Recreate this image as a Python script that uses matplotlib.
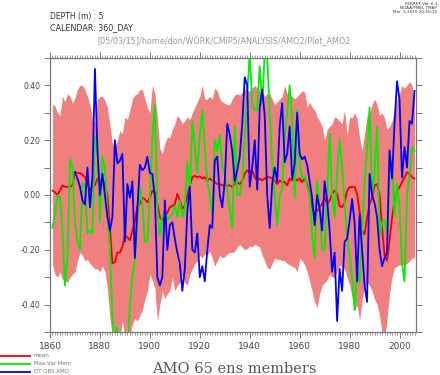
import numpy as np
import matplotlib
matplotlib.use("Agg")
import matplotlib.pyplot as plt
from matplotlib.lines import Line2D
from matplotlib.ticker import MultipleLocator, FixedLocator

# ensemble spread (max / min of the 65 members), ensemble mean and single member
years = np.arange(1861, 2007)
ens_hi = [0.33, 0.325, 0.30, 0.29, 0.36, 0.34, 0.37, 0.36, 0.335, 0.355,
          0.385, 0.40, 0.40, 0.385, 0.36, 0.33, 0.28, 0.26, 0.35, 0.36,
          0.36, 0.345, 0.32, 0.255, 0.19, 0.175, 0.20, 0.235, 0.225, 0.285,
          0.275, 0.31, 0.35, 0.365, 0.37, 0.385, 0.385, 0.35, 0.32, 0.30,
          0.40, 0.37, 0.285, 0.17, 0.15, 0.19, 0.21, 0.21, 0.24, 0.26,
          0.29, 0.28, 0.26, 0.27, 0.285, 0.275, 0.30, 0.32, 0.34, 0.36,
          0.40, 0.35, 0.35, 0.36, 0.35, 0.39, 0.38, 0.35, 0.34, 0.335,
          0.33, 0.33, 0.35, 0.365, 0.37, 0.365, 0.375, 0.385, 0.38, 0.38,
          0.39, 0.40, 0.39, 0.38, 0.37, 0.36, 0.37, 0.37, 0.35, 0.33,
          0.34, 0.35, 0.36, 0.40, 0.37, 0.37, 0.36, 0.35, 0.36, 0.37,
          0.38, 0.375, 0.32, 0.34, 0.32, 0.31, 0.285, 0.27, 0.25, 0.20,
          0.24, 0.25, 0.26, 0.285, 0.28, 0.27, 0.26, 0.31, 0.22, 0.285,
          0.28, 0.30, 0.28, 0.21, 0.16, 0.225, 0.29, 0.30, 0.33, 0.35,
          0.33, 0.29, 0.30, 0.28, 0.24, 0.25, 0.27, 0.31, 0.35, 0.37,
          0.40, 0.39, 0.40, 0.415, 0.40, 0.34]
ens_lo = [-0.255, -0.29, -0.30, -0.28, -0.31, -0.31, -0.32, -0.30, -0.29, -0.28,
          -0.24, -0.21, -0.22, -0.24, -0.235, -0.25, -0.26, -0.27, -0.27, -0.28,
          -0.26, -0.28, -0.34, -0.45, -0.52, -0.52, -0.47, -0.52, -0.46, -0.52,
          -0.48, -0.52, -0.47, -0.45, -0.46, -0.44, -0.42, -0.38, -0.35, -0.29,
          -0.31, -0.34, -0.46, -0.40, -0.35, -0.38, -0.36, -0.35, -0.30, -0.35,
          -0.33, -0.32, -0.29, -0.32, -0.33, -0.29, -0.27, -0.25, -0.24, -0.22,
          -0.23, -0.215, -0.22, -0.205, -0.23, -0.26, -0.24, -0.22, -0.23, -0.225,
          -0.215, -0.21, -0.21, -0.205, -0.19, -0.18, -0.19, -0.20, -0.195, -0.185,
          -0.19, -0.18, -0.185, -0.19, -0.22, -0.24, -0.265, -0.27, -0.25, -0.23,
          -0.235, -0.235, -0.24, -0.24, -0.25, -0.255, -0.26, -0.265, -0.28, -0.23,
          -0.24, -0.255, -0.28, -0.315, -0.35, -0.39, -0.41, -0.36, -0.33, -0.32,
          -0.31, -0.29, -0.30, -0.30, -0.28, -0.255, -0.26, -0.27, -0.30, -0.33,
          -0.37, -0.42, -0.40, -0.46, -0.38, -0.34, -0.32, -0.33, -0.35, -0.38,
          -0.40, -0.44, -0.50, -0.53, -0.45, -0.36, -0.30, -0.265, -0.26, -0.255,
          -0.255, -0.255, -0.25, -0.24, -0.23, -0.23]
ens_mean = [0.016, 0.01, 0.0, 0.016, 0.035, 0.03, 0.03, 0.03, 0.035, 0.085,
            0.08, 0.08, 0.075, 0.065, 0.04, 0.016, 0.035, 0.035, 0.06, 0.047,
            0.06, 0.035, 0.0, -0.12, -0.25, -0.245, -0.21, -0.21, -0.19, -0.145,
            -0.155, -0.165, -0.13, -0.095, -0.04, -0.033, -0.01, -0.015, -0.027, -0.01,
            0.016, 0.01, -0.033, -0.08, -0.095, -0.08, -0.064, -0.045, -0.04, -0.033,
            0.004, -0.02, -0.05, -0.04, -0.002, 0.035, 0.065, 0.07, 0.065, 0.068,
            0.06, 0.065, 0.053, 0.06, 0.053, 0.047, 0.04, 0.04, 0.035, 0.035,
            0.035, 0.035, 0.03, 0.04, 0.047, 0.04, 0.053, 0.077, 0.09, 0.083,
            0.09, 0.065, 0.053, 0.06, 0.053, 0.06, 0.065, 0.065, 0.06, 0.053,
            0.04, 0.053, 0.047, 0.047, 0.035, 0.06, 0.053, 0.06, 0.053, 0.06,
            0.047, 0.06, 0.04, 0.004, -0.045, -0.07, -0.058, -0.045, -0.033, -0.01,
            -0.033, -0.02, 0.004, 0.016, 0.004, -0.04, -0.045, -0.027, 0.016, 0.028,
            0.03, 0.03, 0.004, -0.058, -0.13, -0.143, -0.083, -0.033, -0.01, 0.035,
            0.04, 0.004, -0.12, -0.22, -0.24, -0.168, -0.083, -0.02, 0.016, 0.028,
            0.047, 0.065, 0.083, 0.077, 0.065, 0.06]
max_var = [-0.12, -0.07, 0.0, -0.01, -0.13, -0.33, -0.23, 0.13, 0.10, -0.10,
           -0.17, -0.20, 0.04, 0.04, -0.14, -0.13, -0.14, 0.21, 0.20, -0.10,
           0.14, 0.10, -0.06, -0.20, -0.45, -0.55, -0.48, -0.55, -0.55, -0.52,
           -0.55, -0.40, -0.30, -0.24, -0.10, 0.03, -0.03, -0.17, -0.17, -0.01,
           0.21, 0.33, -0.06, -0.15, -0.08, -0.06, -0.09, -0.08, -0.07, -0.04,
           -0.08, -0.02, -0.08, -0.05, 0.12, 0.02, 0.27, 0.18, 0.08, 0.22,
           0.31, 0.17, 0.05, 0.0, -0.07, 0.20, 0.16, 0.22, 0.10, 0.08,
           0.02, -0.05, -0.12, 0.25, 0.0, 0.0, 0.05, 0.21, 0.37, 0.52,
           0.33, 0.31, 0.31, 0.47, 0.33, 0.52, 0.50, 0.31, 0.12, 0.0,
           -0.11, 0.0, 0.02, 0.21, 0.30, 0.40, 0.28, -0.01, 0.31, 0.12,
           0.06, 0.07, 0.03, 0.0, -0.15, -0.23, 0.05, -0.05, -0.20, -0.20,
           0.0, 0.225, 0.0, -0.08, 0.08, 0.20, 0.10, -0.03, -0.15, -0.22,
           -0.30, -0.42, -0.27, -0.32, -0.13, 0.05, 0.16, 0.32, 0.0, 0.08,
           0.25, -0.15, -0.10, -0.09, -0.14, 0.14, 0.13, -0.08, 0.04, -0.04,
           -0.25, -0.315, 0.0, 0.07, 0.175, 0.16]

# detrended observed AMO
obs_years = np.arange(1870, 2007)
obs_amo = [0.083, 0.06, 0.03, -0.02, -0.035, 0.10, -0.045, 0.065, 0.46, 0.16,
           0.0, 0.077, 0.0, -0.08, -0.13, -0.08, 0.20, 0.115, 0.125, 0.15,
           -0.17, 0.04, -0.01, 0.05, -0.23, -0.05, 0.11, 0.09, 0.10, 0.14,
           0.08, 0.077, -0.01, -0.30, -0.33, -0.30, -0.02, -0.20, -0.11, -0.10,
           -0.16, -0.21, -0.25, -0.35, -0.27, -0.06, 0.03, -0.20, -0.21, -0.14,
           -0.30, -0.26, -0.315, -0.20, -0.11, -0.12, 0.126, 0.14, 0.0, -0.045,
           0.05, 0.26, 0.22, 0.16, 0.05, 0.09, 0.14, 0.26, 0.43, 0.40,
           0.03, 0.10, 0.20, 0.02, 0.32, 0.385, 0.29, 0.0, -0.12, 0.04,
           0.10, 0.05, 0.25, 0.335, 0.12, 0.15, 0.25, 0.06, 0.115, 0.30,
           0.15, 0.13, 0.14, 0.11, 0.05, -0.01, -0.11, 0.0, -0.05, -0.13,
           0.05, -0.02, -0.13, -0.28, -0.21, -0.46, -0.27, -0.35, -0.17, -0.16,
           -0.095, -0.015, -0.1, -0.315, -0.07, -0.20, -0.33, -0.39, 0.077, 0.0,
           -0.03, -0.08, -0.20, -0.26, -0.23, -0.21, 0.163, 0.06, 0.26, 0.415,
           0.35, 0.065, 0.175, 0.10, 0.27, 0.26, 0.38]

xticks = [1860, 1880, 1900, 1920, 1940, 1960, 1980, 2000]
yticks = [-0.4, -0.2, 0.0, 0.2, 0.4]

W, H = 440, 375
fig = plt.figure(figsize=(W / 100, H / 100), dpi=100)
ax = fig.add_axes([50 / W, 43 / H, 366 / W, 274 / H])

ax.fill_between(years, ens_lo, ens_hi, color='#f08080', lw=0)
ax.plot(years, ens_mean, color='#ee0000', lw=1.3)
ax.plot(years, max_var, color='#00ee00', lw=1.3)
ax.plot(obs_years, obs_amo, color='#0000ff', lw=1.3)

ax.set_xlim(1860, 2006.6)
ax.set_ylim(-0.5, 0.5)

frame = '#777777'
for s in ax.spines.values():
    s.set_color(frame)
    s.set_linewidth(0.9)

ax.xaxis.set_major_locator(FixedLocator(xticks))
ax.xaxis.set_minor_locator(MultipleLocator(1))
ax.yaxis.set_major_locator(FixedLocator(yticks))
ax.yaxis.set_minor_locator(MultipleLocator(0.1))
ax.set_xticklabels([str(x) for x in xticks])
ax.set_yticklabels(['%.2f' % y if y != 0 else '0.00' for y in yticks])
ax.tick_params(axis='x', which='major', direction='out', length=4, width=0.7,
               color=frame, top=True, labelsize=6.5, labelcolor='#444444', pad=3)
ax.tick_params(axis='x', which='minor', direction='out', length=2, width=0.5,
               color=frame, top=True)
ax.tick_params(axis='y', which='both', direction='out', length=4, width=0.7,
               color=frame, right=True, labelsize=5.5, labelcolor='#444444', pad=3)

# header texts
fig.text(50 / W, 1 - 17 / H, 'DEPTH (m) : 5', fontsize=5.5, color='#333333', va='center')
fig.text(50 / W, 1 - 28 / H, 'CALENDAR: 360_DAY', fontsize=5.8, color='#333333', va='center')
fig.text(224 / W, 1 - 41 / H, '[05/03/15]/home/don/WORK/CMIP5/ANALYSIS/AMO2/Plot_AMO2',
         fontsize=5.8, color='#999999', ha='center', va='center')
fig.text(437 / W, 1 - 2 / H, 'FERRET Ver. 6.1\nNOAA/PMEL TMAP\nMar  5 2015 20:50:15',
         fontsize=3, color='#333333', ha='right', va='top', linespacing=1.0)

# legend
leg = [('mean', '#ee0000', 355.5), ('Max Var Mem', '#00ee00', 363.5), ('DT OBS AMO', '#0000ff', 371.5)]
for lab, col, yy in leg:
    fig.add_artist(Line2D([0, 30 / W], [1 - yy / H, 1 - yy / H], color=col, lw=1.3,
                          transform=fig.transFigure))
    fig.text(34 / W, 1 - yy / H, lab, fontsize=4, color='#777777', va='center')

fig.text(234 / W, 1 - 369 / H, 'AMO 65 ens members', fontsize=10.5, color='#555555',
         family='DejaVu Serif', ha='center', va='center')

fig.savefig('out.png', dpi=100)
